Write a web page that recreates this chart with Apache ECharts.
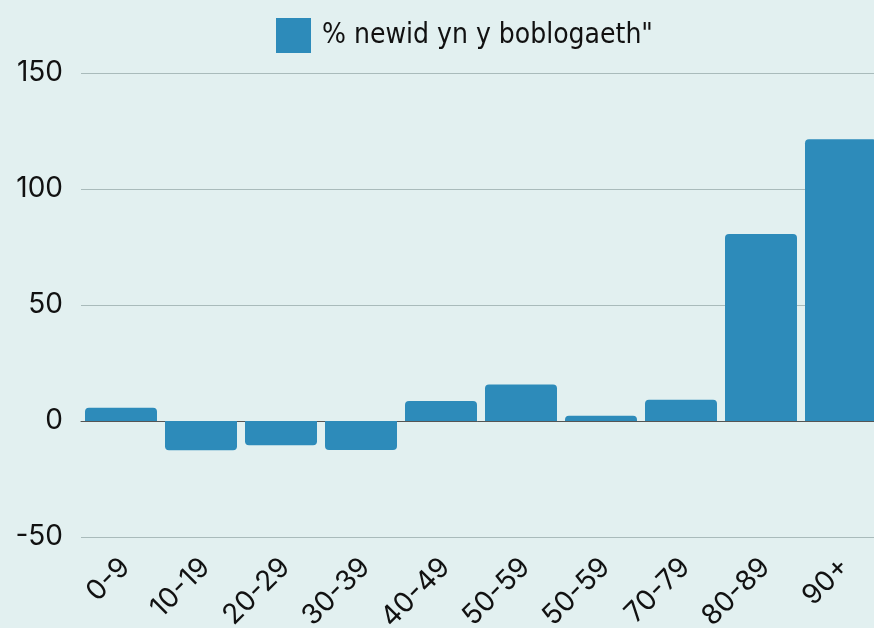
<!DOCTYPE html>
<html>
<head>
<meta charset="utf-8">
<script src="https://cdn.jsdelivr.net/npm/echarts@6/dist/echarts.min.js"></script>
<style>
html,body{margin:0;padding:0;background:#e2f0f0;}
#chart{width:874px;height:628px;}
</style>
</head>
<body>
<div id="chart"></div>
<script>
const categories = ["0-9","10-19","20-29","30-39","40-49","50-59","50-59","70-79","80-89","90+"];
const values = [5.7, -12.6, -10.5, -12.5, 8.6, 15.7, 2.3, 9.2, 80.6, 121.4];
const seriesName = '% newid yn y boblogaeth"';
const yTicks = { min: -50, max: 150, interval: 50 };

const chart = echarts.init(document.getElementById('chart'), null, {renderer: 'canvas'});
const barData = values.map(v => ({
  value: v,
  itemStyle: { borderRadius: v >= 0 ? [4,4,0,0] : [0,0,4,4] }
}));
chart.setOption({
  backgroundColor: '#e2f0f0',
  animation: false,
  legend: {
    top: 13,
    left: 271,
    itemWidth: 35,
    itemHeight: 35,
    itemGap: 10,
    icon: 'rect',
    textStyle: { fontFamily: '"DejaVu Sans Condensed", "Roboto", sans-serif', fontSize: 28, color: '#111', padding: [0,0,0,6] },
    data: [seriesName]
  },
  grid: { left: 81, width: 800, top: 73, bottom: 91, containLabel: false, outerBoundsMode: 'none' },
  xAxis: {
    type: 'category',
    data: categories,
    axisLine: { show: true, onZero: true, lineStyle: { color: '#555', width: 1 } },
    axisTick: { show: false },
    axisLabel: { rotate: 45, margin: 30, fontSize: 28, color: '#111', fontFamily: 'Inter, sans-serif', interval: 0, padding: [0, -6, 0, 0] }
  },
  yAxis: {
    type: 'value',
    min: yTicks.min, max: yTicks.max, interval: yTicks.interval,
    axisLine: { show: false },
    axisTick: { show: false },
    splitLine: { lineStyle: { color: '#a9bbbb', width: 1 } },
    axisLabel: { margin: 18, fontSize: 28, color: '#111', fontFamily: 'Inter, sans-serif' }
  },
  series: [{
    name: seriesName,
    type: 'bar',
    data: barData,
    barWidth: 72,
    itemStyle: { color: '#2d8bba' }
  }]
});
</script>
</body>
</html>
